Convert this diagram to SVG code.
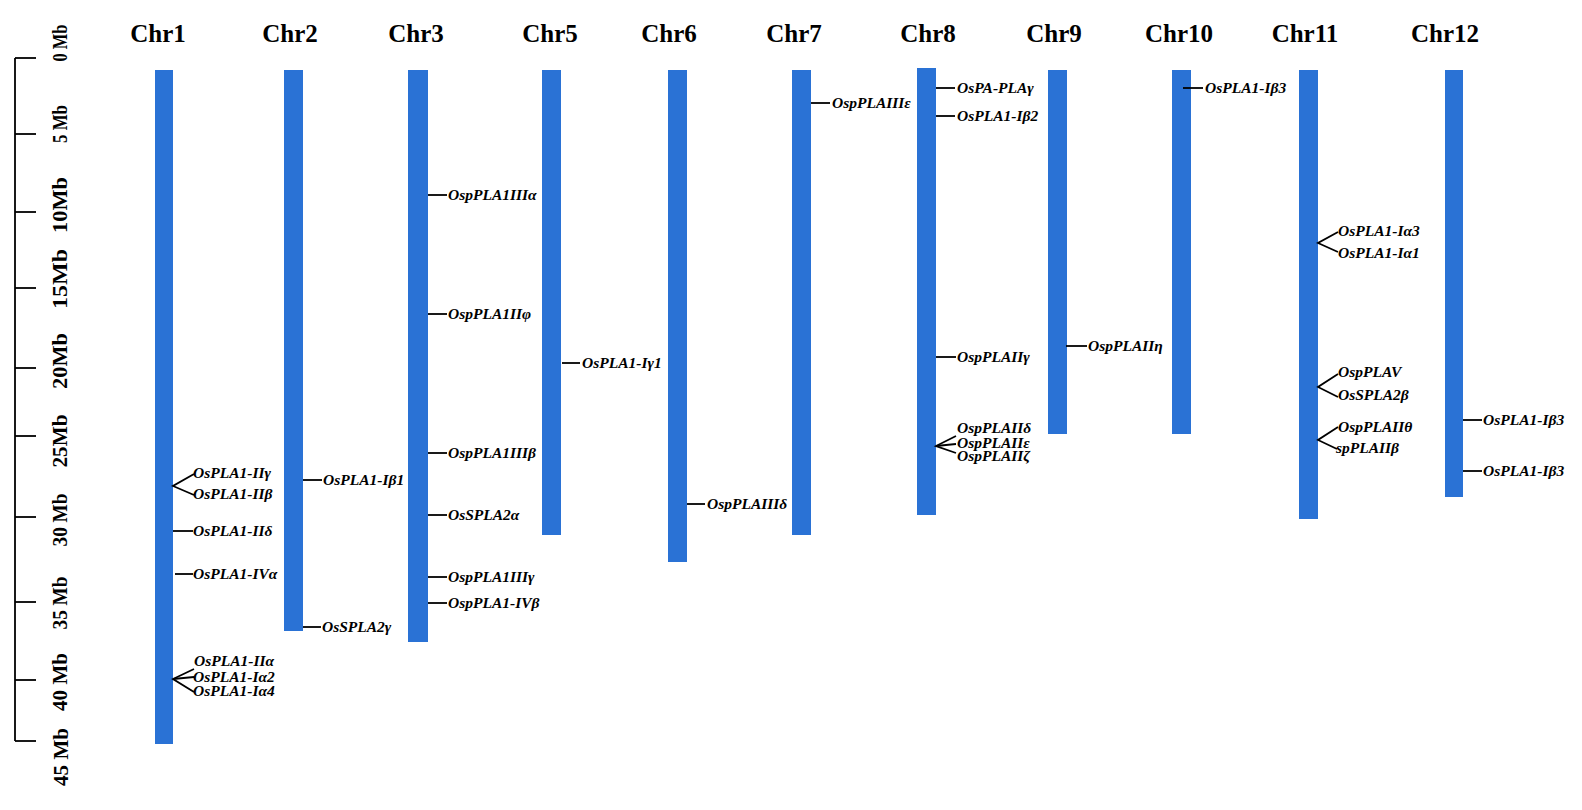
<svg xmlns="http://www.w3.org/2000/svg" width="1582" height="810" viewBox="0 0 1582 810">
<style>
.bar{fill:#2a72d5;}
.title{font-family:"Liberation Serif","Times New Roman",serif;font-weight:bold;font-size:25px;text-anchor:middle;fill:#000;}
.ax{font-family:"Liberation Serif","Times New Roman",serif;font-weight:bold;font-size:21px;text-anchor:middle;fill:#000;}
.g{font-family:"Liberation Serif","Times New Roman",serif;font-weight:bold;font-style:italic;font-size:15.5px;fill:#000;}
.ln{stroke:#000;stroke-width:1.8;fill:none;}
</style>
<rect width="1582" height="810" fill="#fff"/>
<g id="axis">
<line class="ln" x1="15" y1="58" x2="15" y2="741" stroke-width="2"/>
<g class="ln" stroke-width="2">
<line x1="15" y1="58" x2="36" y2="58"/>
<line x1="15" y1="134" x2="36" y2="134"/>
<line x1="15" y1="212" x2="36" y2="212"/>
<line x1="15" y1="288" x2="36" y2="288"/>
<line x1="15" y1="368" x2="36" y2="368"/>
<line x1="15" y1="436" x2="36" y2="436"/>
<line x1="15" y1="517" x2="36" y2="517"/>
<line x1="15" y1="602" x2="36" y2="602"/>
<line x1="15" y1="680" x2="36" y2="680"/>
<line x1="15" y1="741" x2="36" y2="741"/>
</g>
<text class="ax" transform="translate(67,43) rotate(-90)" textLength="37" lengthAdjust="spacingAndGlyphs">0 Mb</text>
<text class="ax" transform="translate(67,124) rotate(-90)" textLength="38" lengthAdjust="spacingAndGlyphs">5 Mb</text>
<text class="ax" transform="translate(67,205) rotate(-90)" textLength="56" lengthAdjust="spacingAndGlyphs">10Mb</text>
<text class="ax" transform="translate(67,279) rotate(-90)" textLength="60" lengthAdjust="spacingAndGlyphs">15Mb</text>
<text class="ax" transform="translate(67,361) rotate(-90)" textLength="56" lengthAdjust="spacingAndGlyphs">20Mb</text>
<text class="ax" transform="translate(67,441) rotate(-90)" textLength="53" lengthAdjust="spacingAndGlyphs">25Mb</text>
<text class="ax" transform="translate(67,520) rotate(-90)" textLength="53" lengthAdjust="spacingAndGlyphs">30 Mb</text>
<text class="ax" transform="translate(67,603) rotate(-90)" textLength="53" lengthAdjust="spacingAndGlyphs">35 Mb</text>
<text class="ax" transform="translate(67,682) rotate(-90)" textLength="58" lengthAdjust="spacingAndGlyphs">40 Mb</text>
<text class="ax" transform="translate(68,757) rotate(-90)" textLength="58" lengthAdjust="spacingAndGlyphs" font-size="23">45 Mb</text>
</g>
<g id="chr1"><text class="title" x="158" y="42">Chr1</text><rect class="bar" x="155" y="70" width="18" height="674"/></g>
<g id="chr2"><text class="title" x="290" y="42">Chr2</text><rect class="bar" x="284" y="70" width="19" height="561"/></g>
<g id="chr3"><text class="title" x="416" y="42">Chr3</text><rect class="bar" x="408" y="70" width="20" height="572"/></g>
<g id="chr5"><text class="title" x="550" y="42">Chr5</text><rect class="bar" x="542" y="70" width="19" height="465"/></g>
<g id="chr6"><text class="title" x="669" y="42">Chr6</text><rect class="bar" x="668" y="70" width="19" height="492"/></g>
<g id="chr7"><text class="title" x="794" y="42">Chr7</text><rect class="bar" x="792" y="70" width="19" height="465"/></g>
<g id="chr8"><text class="title" x="928" y="42">Chr8</text><rect class="bar" x="917" y="68" width="19" height="447"/></g>
<g id="chr9"><text class="title" x="1054" y="42">Chr9</text><rect class="bar" x="1048" y="70" width="19" height="364"/></g>
<g id="chr10"><text class="title" x="1179" y="42">Chr10</text><rect class="bar" x="1172" y="70" width="19" height="364"/></g>
<g id="chr11"><text class="title" x="1305" y="42">Chr11</text><rect class="bar" x="1299" y="70" width="19" height="449"/></g>
<g id="chr12"><text class="title" x="1445" y="42">Chr12</text><rect class="bar" x="1445" y="70" width="18" height="427"/></g>
<g id="connectors" class="ln">
<polyline points="194,474 173,486 194,495"/>
<line x1="173" y1="531" x2="193" y2="531"/>
<line x1="175" y1="574" x2="193" y2="574"/>
<polyline points="194,669 173,679 194,692"/>
<line x1="173" y1="679" x2="194" y2="677"/>
<line x1="303" y1="480" x2="322" y2="480"/>
<line x1="303" y1="627" x2="321" y2="627"/>
<line x1="428" y1="195" x2="447" y2="195"/>
<line x1="428" y1="314" x2="447" y2="314"/>
<line x1="428" y1="453" x2="447" y2="453"/>
<line x1="428" y1="515" x2="447" y2="515"/>
<line x1="428" y1="577" x2="447" y2="577"/>
<line x1="428" y1="603" x2="447" y2="603"/>
<line x1="562" y1="363" x2="580" y2="363"/>
<line x1="687" y1="504" x2="705" y2="504"/>
<line x1="811" y1="103" x2="830" y2="103"/>
<line x1="936" y1="88" x2="955" y2="88"/>
<line x1="936" y1="116" x2="955" y2="116"/>
<line x1="936" y1="357" x2="956" y2="357"/>
<polyline points="956,436 936,446 956,453"/>
<line x1="936" y1="446" x2="956" y2="444"/>
<line x1="1066" y1="346" x2="1087" y2="346"/>
<line x1="1183" y1="88" x2="1203" y2="88"/>
<polyline points="1338,232 1318,243 1338,252"/>
<polyline points="1338,374 1318,387 1338,397"/>
<polyline points="1338,427 1318,440 1337,449"/>
<line x1="1463" y1="420" x2="1482" y2="420"/>
<line x1="1463" y1="471" x2="1482" y2="471"/>
</g>
<g id="labels-chr1">
<text class="g" x="193" y="478">OsPLA1-IIγ</text>
<text class="g" x="193" y="499">OsPLA1-IIβ</text>
<text class="g" x="193" y="536">OsPLA1-IIδ</text>
<text class="g" x="193" y="579">OsPLA1-IVα</text>
<text class="g" x="194" y="666">OsPLA1-IIα</text>
<text class="g" x="193" y="682">OsPLA1-Iα2</text>
<text class="g" x="193" y="696">OsPLA1-Iα4</text>
</g>
<g id="labels-chr2">
<text class="g" x="323" y="485">OsPLA1-Iβ1</text>
<text class="g" x="322" y="632">OsSPLA2γ</text>
</g>
<g id="labels-chr3">
<text class="g" x="448" y="200">OspPLA1IIIα</text>
<text class="g" x="448" y="319">OspPLA1IIφ</text>
<text class="g" x="448" y="458">OspPLA1IIIβ</text>
<text class="g" x="448" y="520">OsSPLA2α</text>
<text class="g" x="448" y="582">OspPLA1IIIγ</text>
<text class="g" x="448" y="608">OspPLA1-IVβ</text>
</g>
<g id="labels-chr5"><text class="g" x="582" y="368">OsPLA1-Iγ1</text></g>
<g id="labels-chr6"><text class="g" x="707" y="509">OspPLAIIIδ</text></g>
<g id="labels-chr7"><text class="g" x="832" y="108">OspPLAIIIε</text></g>
<g id="labels-chr8">
<text class="g" x="957" y="93">OsPA-PLAγ</text>
<text class="g" x="957" y="121">OsPLA1-Iβ2</text>
<text class="g" x="957" y="362">OspPLAIIγ</text>
<text class="g" x="957" y="433">OspPLAIIδ</text>
<text class="g" x="957" y="448">OspPLAIIε</text>
<text class="g" x="957" y="461">OspPLAIIζ</text>
</g>
<g id="labels-chr9"><text class="g" x="1088" y="351">OspPLAIIη</text></g>
<g id="labels-chr10"><text class="g" x="1205" y="93">OsPLA1-Iβ3</text></g>
<g id="labels-chr11">
<text class="g" x="1338" y="236">OsPLA1-Iα3</text>
<text class="g" x="1338" y="258">OsPLA1-Iα1</text>
<text class="g" x="1338" y="377">OspPLAV</text>
<text class="g" x="1338" y="400">OsSPLA2β</text>
<text class="g" x="1338" y="432">OspPLAIIθ</text>
<text class="g" x="1336" y="453">spPLAIIβ</text>
</g>
<g id="labels-chr12">
<text class="g" x="1483" y="425">OsPLA1-Iβ3</text>
<text class="g" x="1483" y="476">OsPLA1-Iβ3</text>
</g>
</svg>
